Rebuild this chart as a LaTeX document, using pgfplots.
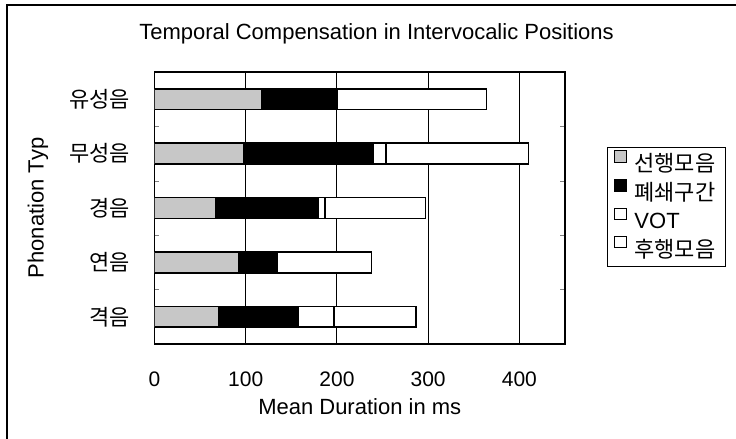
\documentclass[border=0pt]{standalone}
\usepackage{pgfplots}
\pgfplotsset{compat=1.18}
\usepackage{fontspec}
\setmainfont{Liberation Sans}
\newfontfamily\kr{Noto Sans CJK KR}
\begin{document}
\begin{tikzpicture}
\useasboundingbox (0,0) rectangle (368pt,219.5pt);
% outer chart frame (cut off at right and bottom as in the reference)
\draw[line width=0.9pt] (3.5pt,0pt) -- (3.5pt,217pt) -- (370pt,217pt);
\node[anchor=base, font=\fontsize{11}{13}\selectfont] at (188.25pt,199.5pt) {Temporal Compensation in Intervocalic Positions};
\begin{axis}[
  at={(77.25pt,47.5pt)}, anchor=south west,
  scale only axis, width=205.25pt, height=136pt,
  xbar stacked, bar width=10.35pt,
  xmin=0, xmax=450,
  ymin=-0.5, ymax=4.5,
  xtick={0,100,200,300,400},
  ytick={0,1,2,3,4},
  yticklabels={{\kr 격음},{\kr 연음},{\kr 경음},{\kr 무성음},{\kr 유성음}},
  minor ytick={0.5,1.5,2.5,3.5},
  major tick length=0pt, minor tick length=2.5pt,
  tick align=inside,
  xmajorgrids=true,
  grid style={black, line width=0.5pt},
  axis line style={line width=0.8pt},
  /pgf/number format/assume math mode=true,
  xticklabel style={font=\fontsize{10.5}{12}\selectfont, inner sep=0pt, anchor=north, yshift=-13.5pt},
  yticklabel style={font=\fontsize{11}{13}\selectfont, inner sep=0pt, anchor=east, xshift=-12pt},
  xlabel={Mean Duration in ms},
  ylabel={Phonation Typ},
  xlabel style={font=\fontsize{11}{13}\selectfont, at={(axis description cs:0.5,-0.2316)}, anchor=center},
  ylabel style={font=\fontsize{11}{13}\selectfont, at={(axis description cs:-0.284,0.5)}, anchor=center},
  legend style={at={(axis description cs:1.1023,0.7243)}, anchor=north west,
    draw=black, line width=0.5pt, font=\fontsize{11}{13}\selectfont,
    inner xsep=3pt, inner ysep=1pt},
  legend cell align=left,
  legend image code/.code={\draw[#1, line width=0.5pt] (0.5pt,1.0pt) rectangle (6.3pt,6.8pt); \path[draw=none,fill=none] (0pt,3pt) -- (8.5pt,3pt);},
]
\addplot[fill=black!22, draw=black, line width=0.8pt] coordinates {(70,0) (92,1) (67,2) (98,3) (118,4)};
\addplot[fill=black, draw=black, line width=0.8pt] coordinates {(88,0) (43,1) (112,2) (142,3) (82,4)};
\addplot[fill=white, draw=black, line width=0.8pt] coordinates {(39,0) (0,1) (8,2) (14,3) (0,4)};
\addplot[fill=white, draw=black, line width=0.8pt] coordinates {(90,0) (103,1) (110,2) (156,3) (164,4)};
\legend{{\kr 선행모음},{\kr 폐쇄구간},VOT,{\kr 후행모음}}
\end{axis}
\end{tikzpicture}
\end{document}
